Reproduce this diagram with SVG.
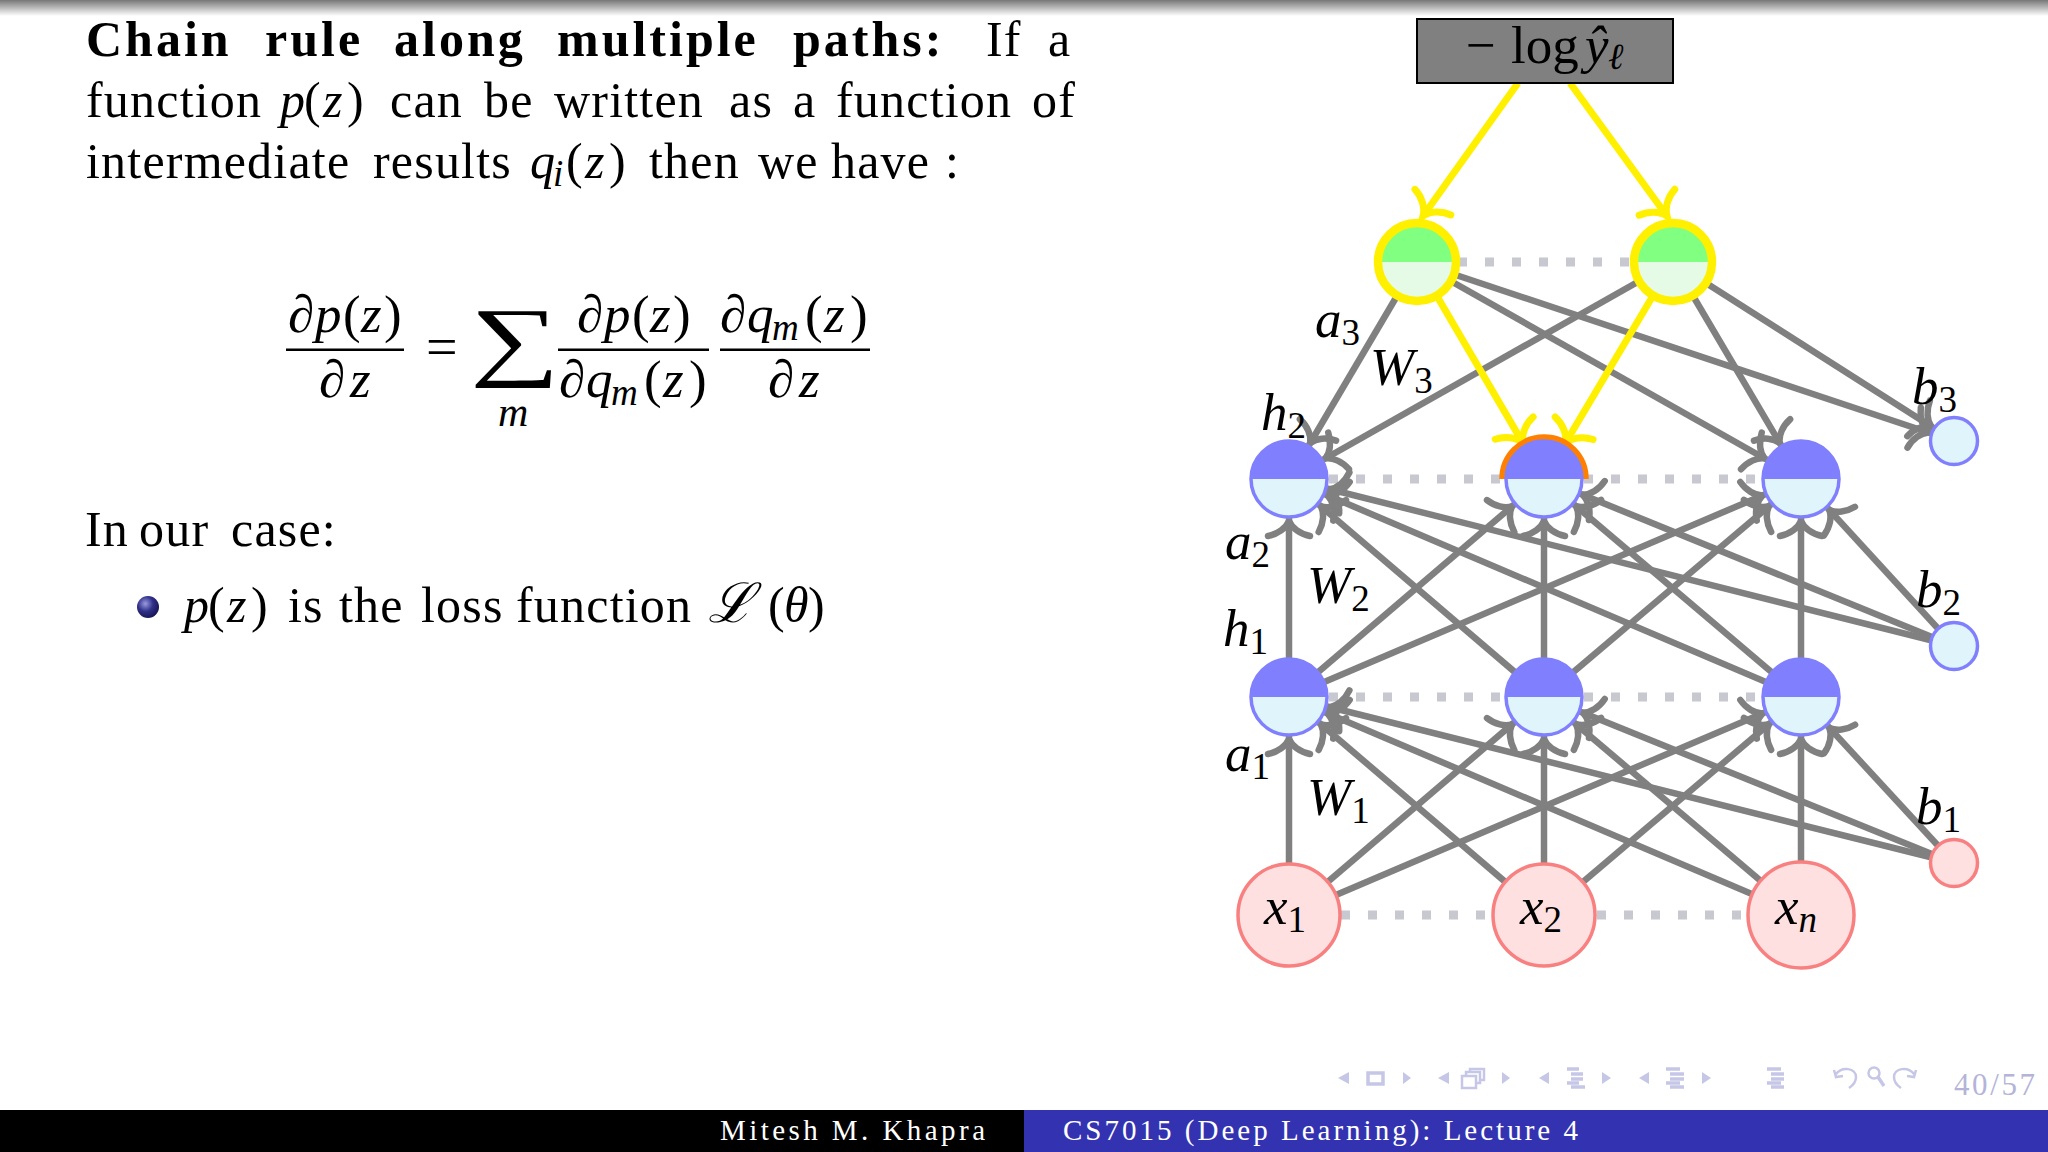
<svg xmlns="http://www.w3.org/2000/svg" width="2048" height="1152" viewBox="0 0 2048 1152">
<style>
text{font-family:"Liberation Serif","DejaVu Serif",serif;fill:#000;white-space:pre}
.t{font-size:50px;letter-spacing:1.2px}
.b{font-weight:bold;letter-spacing:3px}
.i{font-style:italic}
.m{font-size:53px;font-style:italic}
.u{font-style:normal}
.sub{font-size:37px}
.subi{font-size:37px;font-style:italic}
.foot{font-size:29px;fill:#fff}
.g{stroke:#808080;stroke-width:6.5;fill:none;marker-end:url(#hg)}
.gb{stroke:#808080;stroke-width:6.5;fill:none;marker-end:url(#hb)}
.y{stroke:#fff000;stroke-width:7;fill:none;marker-end:url(#hy)}
.y0{stroke:#fff000;stroke-width:7;fill:none;marker-end:url(#hy0)}
.d{stroke:#c8c8d0;stroke-width:9;stroke-dasharray:9 18;fill:none}
.nav{fill:#c6c6e6;stroke:none}
.navl{fill:none;stroke:#c6c6e6;stroke-width:2.5}
.navb{stroke:#c6c6e6;stroke-width:3.5;fill:none}
</style>
<defs>
<linearGradient id="top" x1="0" y1="0" x2="0" y2="1"><stop offset="0" stop-color="#777"/><stop offset="1" stop-color="#fff"/></linearGradient>
<radialGradient id="ball" cx="0.38" cy="0.35" r="0.7"><stop offset="0" stop-color="#9a9ae0"/><stop offset="0.5" stop-color="#30308a"/><stop offset="1" stop-color="#141450"/></radialGradient>
<marker id="hg" markerUnits="userSpaceOnUse" markerWidth="80" markerHeight="80" refX="42" refY="0" orient="auto" overflow="visible"><path d="M-15,-21 C-13,-11 -7,-3 0,0 C-7,3 -13,11 -15,21" fill="none" stroke="#808080" stroke-width="6.5" stroke-linecap="round"/></marker>
<marker id="hb" markerUnits="userSpaceOnUse" markerWidth="80" markerHeight="80" refX="27" refY="0" orient="auto" overflow="visible"><path d="M-15,-21 C-13,-11 -7,-3 0,0 C-7,3 -13,11 -15,21" fill="none" stroke="#808080" stroke-width="6.5" stroke-linecap="round"/></marker>
<marker id="hy" markerUnits="userSpaceOnUse" markerWidth="80" markerHeight="80" refX="42" refY="0" orient="auto" overflow="visible"><path d="M-17,-22 C-15,-12 -8,-3 0,0 C-8,3 -15,12 -17,22" fill="none" stroke="#fff000" stroke-width="7" stroke-linecap="round"/></marker>
<marker id="hy0" markerUnits="userSpaceOnUse" markerWidth="80" markerHeight="80" refX="0" refY="0" orient="auto" overflow="visible"><path d="M-17,-22 C-15,-12 -8,-3 0,0 C-8,3 -15,12 -17,22" fill="none" stroke="#fff000" stroke-width="7" stroke-linecap="round"/></marker>
<g id="blue"><circle r="38" fill="#e0f4fb"/><path d="M-38,0 A38,38 0 0 1 38,0 Z" fill="#8080ff"/><circle r="38" fill="none" stroke="#8080ff" stroke-width="3.5"/></g>
<g id="green"><circle r="38" fill="#e6fbe6"/><path d="M-38,0 A38,38 0 0 1 38,0 Z" fill="#80ff80"/><circle r="39" fill="none" stroke="#fff000" stroke-width="8.5"/></g>
</defs>
<rect width="2048" height="1152" fill="#fff"/>
<rect width="2048" height="16" fill="url(#top)"/>

<g id="slide-text">
<text class="t" y="56"><tspan class="b" x="86">Chain</tspan> <tspan class="b" x="265">rule</tspan> <tspan class="b" x="394">along</tspan> <tspan class="b" x="557">multiple</tspan> <tspan class="b" x="793">paths:</tspan> <tspan x="986">If</tspan> <tspan x="1048">a</tspan></text>
<text class="t" y="117"><tspan x="86">function</tspan> <tspan class="i" x="280">p</tspan><tspan x="304">(</tspan><tspan class="i" x="323">z</tspan><tspan x="347">)</tspan> <tspan x="390">can</tspan> <tspan x="484">be</tspan> <tspan x="554">written</tspan> <tspan x="729">as</tspan> <tspan x="793">a</tspan> <tspan x="836">function</tspan> <tspan x="1032">of</tspan></text>
<text class="t" y="178"><tspan x="86">intermediate</tspan> <tspan x="373">results</tspan> <tspan class="i" x="530">q</tspan><tspan class="subi" x="553" dy="8">i</tspan><tspan x="566" dy="-8">(</tspan><tspan class="i" x="585">z</tspan><tspan x="609">)</tspan> <tspan x="649">then</tspan> <tspan x="758">we</tspan> <tspan x="831">have</tspan> <tspan x="945">:</tspan></text>
<text class="t" y="546"><tspan x="85">In</tspan> <tspan x="139">our</tspan> <tspan x="231">case:</tspan></text>
<circle id="bullet" cx="148" cy="607" r="11" fill="url(#ball)"/>
<text class="t" y="622"><tspan class="i" x="184">p</tspan><tspan x="208">(</tspan><tspan class="i" x="227">z</tspan><tspan x="251">)</tspan> <tspan x="288">is</tspan> <tspan x="339">the</tspan> <tspan x="421">loss</tspan> <tspan x="516">function</tspan> <tspan class="i" style="font-family:'DejaVu Serif',serif;font-size:55px" x="708">ℒ</tspan><tspan x="768">(</tspan><tspan class="i" x="784">θ</tspan><tspan x="808">)</tspan></text>
</g>

<g id="equation">
<rect x="286" y="348.5" width="118" height="2.5"/>
<rect x="558" y="348.5" width="151" height="2.5"/>
<rect x="720" y="348.5" width="150" height="2.5"/>
<text class="m" y="332"><tspan x="288">∂</tspan><tspan x="315">p</tspan><tspan class="u" x="343">(</tspan><tspan x="361">z</tspan><tspan class="u" x="384">)</tspan></text>
<text class="m" y="397"><tspan x="319">∂</tspan><tspan x="350">z</tspan></text>
<text class="u" x="426" y="366" style="font-size:56px;font-family:'Liberation Serif',serif">=</text>
<text id="sum" transform="translate(470,369) scale(1.2,0.84)" style="font-size:105px">∑</text>
<text class="m" x="498" y="426" style="font-size:42px">m</text>
<text class="m" y="332"><tspan x="577">∂</tspan><tspan x="604">p</tspan><tspan class="u" x="632">(</tspan><tspan x="650">z</tspan><tspan class="u" x="673">)</tspan></text>
<text class="m" y="397"><tspan x="559">∂</tspan><tspan x="586">q</tspan><tspan class="subi" x="611" dy="8">m</tspan><tspan class="u" x="644" dy="-8">(</tspan><tspan x="663">z</tspan><tspan class="u" x="689">)</tspan></text>
<text class="m" y="332"><tspan x="720">∂</tspan><tspan x="747">q</tspan><tspan class="subi" x="772" dy="8">m</tspan><tspan class="u" x="805" dy="-8">(</tspan><tspan x="824">z</tspan><tspan class="u" x="850">)</tspan></text>
<text class="m" y="397"><tspan x="768">∂</tspan><tspan x="799">z</tspan></text>
</g>

<g id="connectors">
<line class="d" x1="1458" y1="262" x2="1632" y2="262"/>
<line class="d" x1="1329" y1="479" x2="1505" y2="479"/>
<line class="d" x1="1584" y1="479" x2="1760" y2="479"/>
<line class="d" x1="1329" y1="697" x2="1505" y2="697"/>
<line class="d" x1="1584" y1="697" x2="1760" y2="697"/>
<line class="d" x1="1341" y1="915" x2="1492" y2="915"/>
<line class="d" x1="1597" y1="915" x2="1748" y2="915"/>

<line class="g" x1="1289" y1="915" x2="1289" y2="697"/>
<line class="g" x1="1289" y1="915" x2="1544" y2="697"/>
<line class="g" x1="1289" y1="915" x2="1801" y2="697"/>
<line class="g" x1="1544" y1="915" x2="1289" y2="697"/>
<line class="g" x1="1544" y1="915" x2="1544" y2="697"/>
<line class="g" x1="1544" y1="915" x2="1801" y2="697"/>
<line class="g" x1="1801" y1="915" x2="1289" y2="697"/>
<line class="g" x1="1801" y1="915" x2="1544" y2="697"/>
<line class="g" x1="1801" y1="915" x2="1801" y2="697"/>
<line class="g" x1="1954" y1="863" x2="1289" y2="697"/>
<line class="g" x1="1954" y1="863" x2="1544" y2="697"/>
<line class="g" x1="1954" y1="863" x2="1801" y2="697"/>

<line class="g" x1="1289" y1="697" x2="1289" y2="479"/>
<line class="g" x1="1289" y1="697" x2="1544" y2="479"/>
<line class="g" x1="1289" y1="697" x2="1801" y2="479"/>
<line class="g" x1="1544" y1="697" x2="1289" y2="479"/>
<line class="g" x1="1544" y1="697" x2="1544" y2="479"/>
<line class="g" x1="1544" y1="697" x2="1801" y2="479"/>
<line class="g" x1="1801" y1="697" x2="1289" y2="479"/>
<line class="g" x1="1801" y1="697" x2="1544" y2="479"/>
<line class="g" x1="1801" y1="697" x2="1801" y2="479"/>
<line class="g" x1="1954" y1="646" x2="1289" y2="479"/>
<line class="g" x1="1954" y1="646" x2="1544" y2="479"/>
<line class="g" x1="1954" y1="646" x2="1801" y2="479"/>

<line class="g" x1="1417" y1="262" x2="1289" y2="479"/>
<line class="g" x1="1417" y1="262" x2="1801" y2="479"/>
<line class="gb" x1="1417" y1="262" x2="1954" y2="441"/>
<line class="g" x1="1673" y1="262" x2="1289" y2="479"/>
<line class="g" x1="1673" y1="262" x2="1801" y2="479"/>
<line class="gb" x1="1673" y1="262" x2="1954" y2="441"/>
<line class="y" x1="1417" y1="262" x2="1544" y2="479"/>
<line class="y" x1="1673" y1="262" x2="1544" y2="479"/>
<line class="y0" x1="1518" y1="83" x2="1423" y2="216"/>
<line class="y0" x1="1570" y1="83" x2="1667" y2="216"/>
</g>

<g id="loss"><rect x="1417" y="19" width="256" height="64" fill="#808080" stroke="#000" stroke-width="2"/>
<text y="63" style="font-size:53px"><tspan x="1466">−</tspan> <tspan x="1511">log</tspan> <tspan class="i" x="1585">ŷ</tspan><tspan class="i" x="1608" dy="6" style="font-size:37px">ℓ</tspan></text></g>
<g id="output1" transform="translate(1417,262)"><use href="#green"/></g>
<g id="output2" transform="translate(1673,262)"><use href="#green"/></g>
<g id="h2-1" transform="translate(1289,479)"><use href="#blue"/></g>
<g id="h2-2" transform="translate(1544,479)"><path d="M-41,0 A41,41 0 0 1 41,0" fill="none" stroke="#ff7f00" stroke-width="7.5"/><use href="#blue"/></g>
<g id="h2-3" transform="translate(1801,479)"><use href="#blue"/></g>
<g id="h1-1" transform="translate(1289,697)"><use href="#blue"/></g>
<g id="h1-2" transform="translate(1544,697)"><use href="#blue"/></g>
<g id="h1-3" transform="translate(1801,697)"><use href="#blue"/></g>
<g id="b3"><circle cx="1954" cy="441" r="23.5" fill="#e0f4fb" stroke="#8080ff" stroke-width="3.5"/></g>
<g id="b2"><circle cx="1954" cy="646" r="23.5" fill="#e0f4fb" stroke="#8080ff" stroke-width="3.5"/></g>
<g id="b1"><circle cx="1954" cy="863" r="23.5" fill="#ffe0e0" stroke="#f88080" stroke-width="3.5"/></g>
<g id="x1"><circle cx="1289" cy="915" r="51" fill="#ffe0e0" stroke="#f88080" stroke-width="3.5"/><text class="m" x="1264" y="924">x<tspan class="sub u" dy="8">1</tspan></text></g>
<g id="x2"><circle cx="1544" cy="915" r="51" fill="#ffe0e0" stroke="#f88080" stroke-width="3.5"/><text class="m" x="1520" y="924">x<tspan class="sub u" dy="8">2</tspan></text></g>
<g id="xn"><circle cx="1801" cy="915" r="53" fill="#ffe0e0" stroke="#f88080" stroke-width="3.5"/><text class="m" x="1775" y="924">x<tspan class="subi" dy="8">n</tspan></text></g>

<g id="labels">
<text class="m" x="1315" y="337">a<tspan class="sub u" dy="8">3</tspan></text>
<text class="m" x="1261" y="430">h<tspan class="sub u" dy="8">2</tspan></text>
<text class="m" x="1370" y="385">W<tspan class="sub u" dy="8">3</tspan></text>
<text class="m" x="1912" y="404">b<tspan class="sub u" dy="8">3</tspan></text>
<text class="m" x="1225" y="559">a<tspan class="sub u" dy="8">2</tspan></text>
<text class="m" x="1307" y="603">W<tspan class="sub u" dy="8">2</tspan></text>
<text class="m" x="1223" y="646">h<tspan class="sub u" dy="8">1</tspan></text>
<text class="m" x="1916" y="607">b<tspan class="sub u" dy="8">2</tspan></text>
<text class="m" x="1225" y="771">a<tspan class="sub u" dy="8">1</tspan></text>
<text class="m" x="1307" y="815">W<tspan class="sub u" dy="8">1</tspan></text>
<text class="m" x="1916" y="824">b<tspan class="sub u" dy="8">1</tspan></text>
</g>

<g id="nav">
<path class="nav" d="M1349,1072 L1338,1078 L1349,1084 Z M1403,1072 L1411,1078 L1403,1084 Z"/>
<rect class="navb" x="1368" y="1073" width="15" height="11"/>
<path class="nav" d="M1449,1072 L1438,1078 L1449,1084 Z M1502,1072 L1510,1078 L1502,1084 Z"/>
<path class="navl" d="M1462,1076 h14 v12 h-14 Z M1466,1076 v-4 h14 v11 h-4 M1470,1072 v-3 h14 v11 h-4"/>
<path class="nav" d="M1549,1072 L1539,1078 L1549,1084 Z M1602,1072 L1611,1078 L1602,1084 Z M1649,1072 L1639,1078 L1649,1084 Z M1702,1072 L1711,1078 L1702,1084 Z"/>
<path class="navb" d="M1567,1069 h12 M1571,1074 h12 M1571,1079 h12 M1567,1083 h12 M1571,1087 h14"/>
<path class="navb" d="M1666,1069 h14 M1670,1074 h14 M1670,1079 h14 M1666,1083 h14 M1670,1087 h14"/>
<path class="navb" d="M1767,1069 h14 M1771,1074 h13 M1771,1079 h13 M1767,1083 h14 M1771,1087 h13"/>
<path class="navl" d="M1836,1074 C1842,1066 1856,1068 1856,1077 C1856,1083 1852,1086 1849,1088 M1834,1070 L1836,1077 L1843,1076"/>
<circle class="navl" cx="1874" cy="1073" r="5.5"/><path class="navb" d="M1878,1077 L1884,1086"/>
<path class="navl" d="M1914,1074 C1908,1066 1894,1068 1894,1077 C1894,1083 1898,1086 1901,1088 M1916,1070 L1914,1077 L1907,1076"/>
<text x="1954" y="1095" textLength="81" style="font-size:31px;fill:#b4b4d8">40/57</text>
</g>

<g id="footer">
<rect x="0" y="1110" width="1024" height="42" fill="#000"/>
<rect x="1024" y="1110" width="1024" height="42" fill="#3333b2"/>
<text class="foot" x="720" y="1140" textLength="265">Mitesh M. Khapra</text>
<text class="foot" x="1063" y="1140" textLength="515">CS7015 (Deep Learning): Lecture 4</text>
</g>
</svg>
